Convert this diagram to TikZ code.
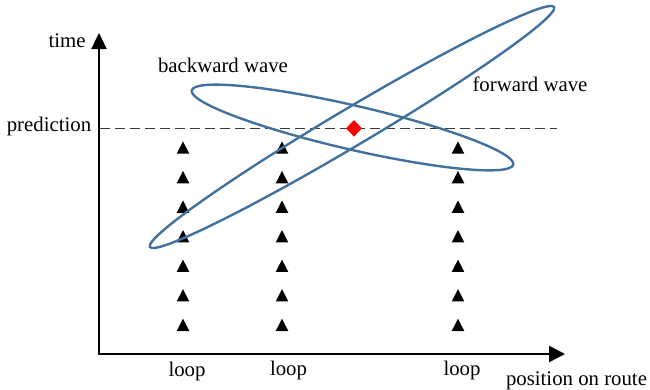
\documentclass[tikz,border=0pt]{standalone}
\usepackage{fontspec}
\setmainfont{Liberation Serif}
\usetikzlibrary{arrows.meta}
\definecolor{waveblue}{HTML}{41719C}
\definecolor{dashgray}{HTML}{3A3A3A}
\begin{document}
\begin{tikzpicture}[x=1pt,y=-1pt,
  lbl/.style={anchor=base,inner sep=0pt,font=\fontsize{20.8}{25}\selectfont},
  axisline/.style={line width=2.4pt,line join=miter},
  wave/.style={draw=waveblue,line width=2.4pt},
  predline/.style={draw=dashgray,line width=1.7pt,dash pattern=on 10pt off 5pt},
  looptri/.pic={\fill[black] (-6.3,6) -- (6.3,6) -- (0,-6.3) -- cycle;}
]
\useasboundingbox (0,0) rectangle (650,389);

% axes
\coordinate (O) at (99,354);
\coordinate (Ytip) at (99,33);
\coordinate (Xtip) at (565,354);
\draw[axisline,{Triangle[length=16pt,width=15pt]}-{Triangle[length=16pt,width=16pt]}] (Ytip) -- (O) -- (Xtip);

% prediction line
\coordinate (P1) at (100,128.5);
\coordinate (P2) at (557,128.5);
\draw[predline] (P1) -- (P2);

% loop detectors
\foreach \x in {183,282,458}{
  \foreach \i in {0,...,6}{
    \pic at (\x,{147.7+29.55*\i}) {looptri};
  }
}

% waves
\coordinate (FC) at (352,127);
\coordinate (BC) at (352.5,127.5);
\draw[wave,rotate around={30.7:(FC)}] (FC) ellipse [x radius=235, y radius=18.5];
\draw[wave,rotate around={-13:(BC)}] (BC) ellipse [x radius=165, y radius=22];

% prediction point
\coordinate (D) at (354,128.3);
\fill[red] ([yshift=-8.3pt]D) -- ([xshift=7.9pt]D) -- ([yshift=8.3pt]D) -- ([xshift=-7.9pt]D) -- cycle;

% labels
\node[lbl] (time) at (67,47) {time};
\node[lbl] (pred) at (49,131.5) {prediction};
\node[lbl] (bw) at (223,72.5) {backward wave};
\node[lbl] (fw) at (530,91) {forward wave};
\node[lbl] (l1) at (187,376.5) {loop};
\node[lbl] (l2) at (288.5,375) {loop};
\node[lbl] (l3) at (462,375) {loop};
\node[lbl] (pos) at (576.5,385) {position on route};
\end{tikzpicture}
\end{document}
